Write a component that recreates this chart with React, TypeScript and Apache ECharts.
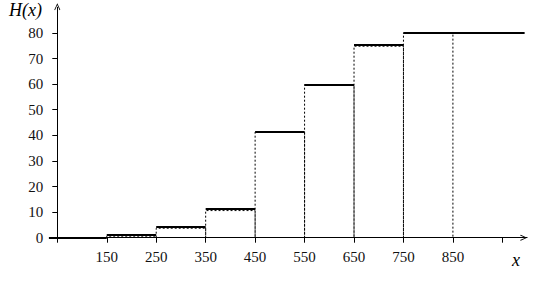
import React, { useEffect, useRef } from "react";
import * as echarts from "echarts";

// Step function H(x): solid steps
const stepStarts = [33, 150, 250, 350, 450, 550, 650, 750];
const stepEnds = [150, 250, 350, 450, 550, 650, 750, 995];
const stepValues = [0, 1.2, 4.4, 11.3, 41.3, 59.8, 75.5, 80];

// Dotted boxes under each step
const boxLeft = [150, 250, 350, 450, 550, 650, 750];
const boxRight = [250, 350, 450, 550, 650, 750, 850];
const boxValues = [0.6, 3.7, 10.6, 41.3, 59.8, 74.8, 80];

// Axis ticks and labels
const xTickValues = [50, 150, 250, 350, 450, 550, 650, 750, 850, 950];
const xLabelValues = [150, 250, 350, 450, 550, 650, 750, 850];
const yTickValues = [0, 10, 20, 30, 40, 50, 60, 70, 80];

const FONT = '"Liberation Serif", "Times New Roman", serif';
const ARROW = "path://M3,0 L6,6.4 L5.3,7 L3,1.8 L0.7,7 L0,6.4 Z";

export default function App() {
  const ref = useRef<HTMLDivElement>(null);

  useEffect(() => {
    if (!ref.current) return;
    const chart = echarts.init(ref.current, null, { renderer: "svg" });

    const solidData = stepValues.map((h, i) => ({
      coords: [
        [stepStarts[i], h],
        [stepEnds[i], h],
      ],
    }));
    const boxData = boxValues.map((h, i) => ({
      coords: [
        [boxLeft[i], 0],
        [boxLeft[i], h],
        [boxRight[i], h],
        [boxRight[i], 0],
      ],
    }));

    chart.setOption({
      animation: false,
      grid: { left: 57.3, right: 20.9, top: 7.3, bottom: 44.3 },
      xAxis: {
        type: "value",
        min: 50,
        max: 1000,
        splitLine: { show: false },
        axisLine: {
          show: true,
          onZero: false,
          lineStyle: { color: "#000", width: 1 },
          symbol: ["none", ARROW],
          symbolSize: [6, 7],
          symbolOffset: [0, -3.5],
        },
        axisTick: {
          show: true,
          length: 5,
          customValues: xTickValues,
          lineStyle: { color: "#000" },
        },
        axisLabel: {
          customValues: xLabelValues,
          color: "#111",
          fontFamily: FONT,
          fontSize: 15,
          margin: 12,
        },
      },
      yAxis: {
        type: "value",
        min: 0,
        max: 90,
        splitLine: { show: false },
        axisLine: {
          show: true,
          onZero: false,
          lineStyle: { color: "#000", width: 1 },
          symbol: ["none", ARROW],
          symbolSize: [6, 7],
          symbolOffset: [0, 0.5],
        },
        axisTick: {
          show: true,
          length: 5,
          customValues: yTickValues,
          lineStyle: { color: "#000" },
        },
        axisLabel: {
          customValues: yTickValues,
          color: "#111",
          fontFamily: FONT,
          fontSize: 15,
          margin: 14,
        },
      },
      graphic: [
        {
          type: "text",
          left: 9,
          top: 1,
          style: { text: "H(x)", font: `italic 18px ${FONT}`, fill: "#000" },
        },
        {
          type: "text",
          left: 512,
          top: 251,
          style: { text: "x", font: `italic 18px ${FONT}`, fill: "#000" },
        },
      ],
      series: [
        {
          type: "lines",
          coordinateSystem: "cartesian2d",
          polyline: true,
          clip: false,
          silent: true,
          lineStyle: { color: "#000", width: 1, type: [2, 2], opacity: 1 },
          data: boxData,
        },
        {
          type: "lines",
          coordinateSystem: "cartesian2d",
          clip: false,
          silent: true,
          lineStyle: { color: "#000", width: 2, opacity: 1 },
          data: solidData,
        },
      ],
    });

    return () => chart.dispose();
  }, []);

  return (
    <div
      ref={ref}
      style={{ position: "absolute", left: 0, top: 0, width: 548, height: 282 }}
    />
  );
}
